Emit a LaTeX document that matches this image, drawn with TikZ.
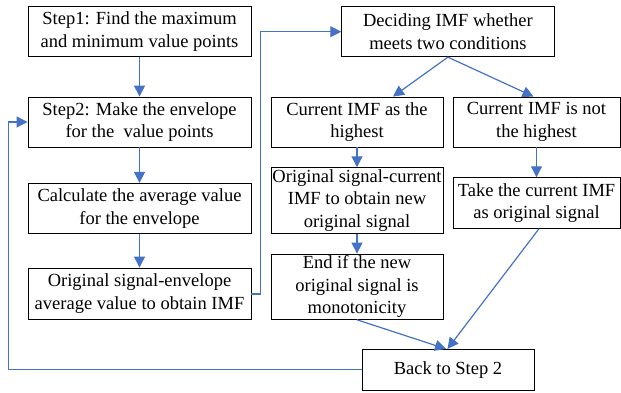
\documentclass[tikz,border=0pt]{standalone}
\usepackage{fontspec}
\setmainfont{Liberation Serif}
\usetikzlibrary{arrows.meta,calc}
\definecolor{cblue}{RGB}{68,114,196}
\begin{document}
\begin{tikzpicture}[x=1pt,y=-1pt,
  box/.style={draw=black,line width=0.9pt,inner sep=0pt,align=center,
    font=\fontsize{18.5}{22.7}\selectfont},
  conn/.style={draw=cblue,line width=1.2pt,-{Triangle[length=11pt,width=11pt]}}]
\useasboundingbox (0,0) rectangle (621,392);
\node[box,minimum width=223,minimum height=50] (s1) at (139.5,31.8) {Step1: Find the maximum\\and minimum value points};
\node[box,minimum width=223,minimum height=50] (s2) at (139.5,122) {Step2: Make the envelope\\for the\ \ value points};
\node[box,minimum width=223,minimum height=50] (calc) at (139.5,208.3) {Calculate the average value\\for the envelope};
\node[box,minimum width=223,minimum height=51] (orig) at (139.5,293.5) {Original signal-envelope\\average value to obtain IMF};
\node[box,minimum width=212.3,minimum height=50] (dec) at (447.9,31.7) {Deciding IMF whether\\meets two conditions};
\node[box,minimum width=172,minimum height=50] (cur) at (357,122) {Current IMF as the\\highest};
\node[box,minimum width=167,minimum height=50] (notc) at (536.5,122) {Current IMF is not\\the highest};
\node[box,minimum width=172,minimum height=65.6] (osc) at (357,200.5) {Original signal-current\\IMF to obtain new\\original signal};
\node[box,minimum width=167,minimum height=50.6] (take) at (536.5,203) {Take the current IMF\\as original signal};
\node[box,minimum width=172,minimum height=65.3] (endn) at (357,286.7) {End if the new\\original signal is\\monotonicity};
\node[box,minimum width=172,minimum height=40.7] (back) at (448,369.7) {Back to Step 2};
\coordinate (r1) at (260.7,294);
\coordinate (r2) at (260.7,31.7);
\coordinate (l1) at (8.3,369.7);
\coordinate (l2) at (8.3,122);
\draw[conn] (s1) -- (s2);
\draw[conn] (s2) -- (calc);
\draw[conn] (calc) -- (orig);
\draw[conn] (orig.east |- r1) -- (r1) -- (r2) -- (dec.west);
\draw[conn] (dec.south) -- ([xshift=36pt]cur.north);
\draw[conn] (dec.south) -- ([xshift=-3pt]notc.north);
\draw[conn] (cur) -- (osc);
\draw[conn] (notc) -- (take);
\draw[conn] (osc) -- (endn);
\draw[conn] (endn.south) -- ([xshift=-2pt]back.north);
\draw[conn] ([xshift=2.5pt]take.south) -- ([xshift=-0.5pt]back.north);
\draw[conn] (back.west) -- (l1) -- (l2) -- (s2.west);
\end{tikzpicture}
\end{document}
